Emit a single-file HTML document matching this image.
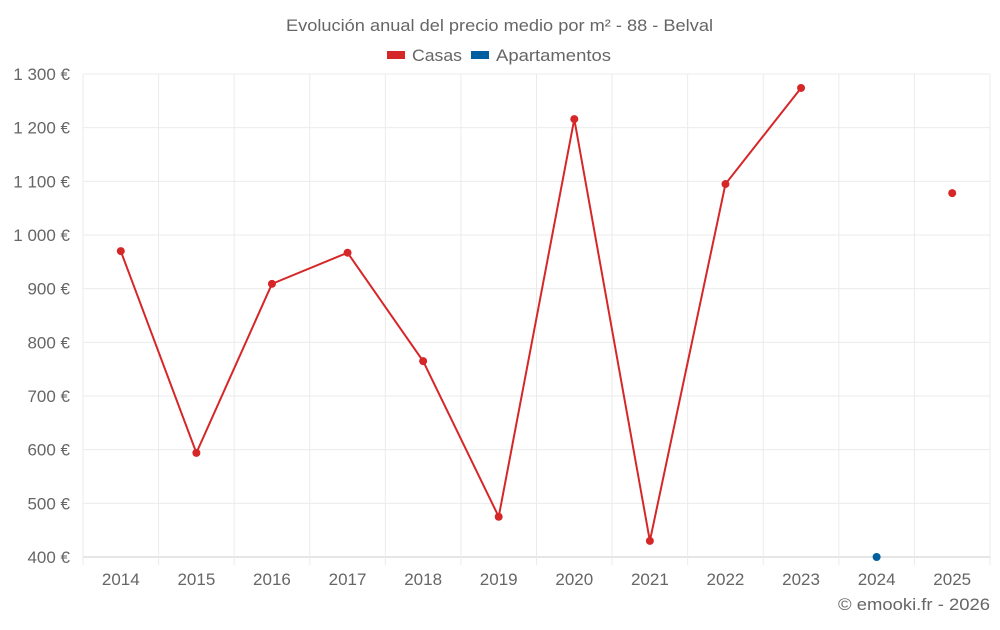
<!DOCTYPE html>
<html><head><meta charset="utf-8"><style>
body{margin:0;background:#fff;font-family:"Liberation Sans",sans-serif;}
svg text{font-family:"Liberation Sans",sans-serif;fill:#666;}
</style></head><body>
<svg id="chart" width="1000" height="625">
<text x="286" y="31" font-size="17" textLength="427" lengthAdjust="spacingAndGlyphs">Evolución anual del precio medio por m² - 88 - Belval</text>
<g>
<g><rect x="387" y="51" width="18" height="8" fill="#d62728"/><text x="412" y="61" font-size="17" textLength="50" lengthAdjust="spacingAndGlyphs">Casas</text></g>
<g><rect x="471" y="51" width="18" height="8" fill="#005f9e"/><text x="496" y="61" font-size="17" textLength="115" lengthAdjust="spacingAndGlyphs">Apartamentos</text></g>
</g>
<g id="grid"></g><g id="axes"></g><g id="marks"></g>
<text x="838" y="610" font-size="17" textLength="152" lengthAdjust="spacingAndGlyphs">© emooki.fr - 2026</text>
</svg>
<script>
const categories=["2014","2015","2016","2017","2018","2019","2020","2021","2022","2023","2024","2025"];
const casas=[970,594,909,967,765,475,1216,430,1095,1274,null,1078];
const apartamentos=[null,null,null,null,null,null,null,null,null,null,400,null];
const yTicks=[400,500,600,700,800,900,1000,1100,1200,1300];
const yTickLabels=["400 €","500 €","600 €","700 €","800 €","900 €","1 000 €","1 100 €","1 200 €","1 300 €"];
const L=83,R=990,T=74,B=557,ymin=400,ymax=1300;
const step=(R-L)/categories.length;
const xs=i=>L+step*(i+0.5);
const ys=v=>B-(v-ymin)/(ymax-ymin)*(B-T);
const NS="http://www.w3.org/2000/svg";
function mk(tag,attrs,parent){const e=document.createElementNS(NS,tag);for(const k in attrs)e.setAttribute(k,attrs[k]);document.getElementById(parent).appendChild(e);return e;}
yTicks.forEach((t,i)=>{
 const g=mk('line',{x1:L,x2:R,y1:ys(t),y2:ys(t),stroke:i==0?'#ccc':'#ebebeb','stroke-width':1},'grid');
 
 
 const tx=mk('text',{x:70,y:ys(t)+6,'text-anchor':'end','font-size':17},'axes');tx.textContent=yTickLabels[i];
 
 
});
for(let i=0;i<=categories.length;i++){
 const x=L+step*i;
 const g=mk('line',{x1:x,x2:x,y1:T,y2:B+8,stroke:'#ebebeb','stroke-width':1},'grid');
 
 
}
categories.forEach((c,i)=>{
 const tx=mk('text',{x:xs(i),y:585,'text-anchor':'middle','font-size':17},'axes');tx.textContent=c;
 
 
});
function series(vals,color,name){
 let d='',pen=false;
 vals.forEach((v,i)=>{if(v==null){pen=false;return;}d+=(pen?'L':'M')+xs(i)+' '+ys(v)+' ';pen=true;});
 if(d){const p=mk('path',{d:d,fill:'none',stroke:color,'stroke-width':2},'marks');
 
 }
 vals.forEach((v,i)=>{if(v==null)return;
  const c=mk('circle',{cx:xs(i),cy:ys(v),r:4,fill:color},'marks');
  
  
 });
}
series(casas,'#d62728','casas');
series(apartamentos,'#005f9e','apartamentos');
</script>
</body></html>
